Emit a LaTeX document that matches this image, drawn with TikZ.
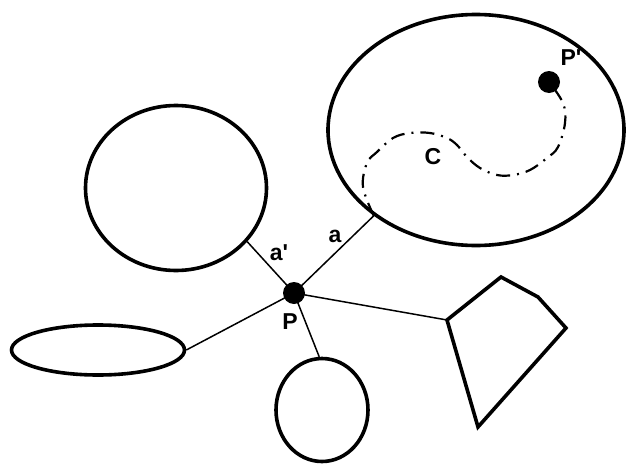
\documentclass[tikz,border=0pt]{standalone}
\usepackage{fontspec}
\setmainfont{Liberation Sans}
\usetikzlibrary{shapes.geometric}
\begin{document}
\begin{tikzpicture}[x=1pt,y=-1pt,
  shapeline/.style={draw, line width=3.6pt, ellipse, inner sep=0pt},
  conn/.style={line width=1.5pt},
  dotnode/.style={circle, fill=black, inner sep=0pt, minimum size=22pt},
  lbl/.style={font=\fontsize{23}{23}\selectfont\bfseries, inner sep=0pt},
  curveline/.style={line width=2.2pt, dash pattern=on 14pt off 7pt on 2pt off 7pt}]
\useasboundingbox (0,0) rectangle (630,466);
% shapes
\node[shapeline, minimum width=296pt, minimum height=231pt] (big) at (476,130) {};
\node[shapeline, minimum width=181pt, minimum height=165pt] (leftc) at (176,188) {};
\node[shapeline, minimum width=173pt, minimum height=50pt] (flat) at (98,350) {};
\node[shapeline, minimum width=92pt, minimum height=103pt] (bot) at (322,410) {};
\coordinate (q1) at (447,320);
\coordinate (q2) at (501,277);
\coordinate (q3) at (538,297);
\coordinate (q4) at (566,328);
\coordinate (q5) at (478,427);
\draw[line width=3.6pt, line join=miter] (q1) -- (q2) -- (q3) -- (q4) -- (q5) -- cycle;
% point P and connectors
\node[dotnode] (P) at (294,293) {};
\draw[conn] (P.center) -- (big.220);
\draw[conn] (P.center) -- (leftc.-37);
\draw[conn] (P.center) -- (flat.east);
\draw[conn] (P.center) -- (bot.93);
\draw[conn] (P.center) -- (q1);
% curve C to P'
\node[dotnode] (Pp) at (549,82) {};
\draw[curveline] plot[smooth, tension=0.6] coordinates {(big.220) (363,187) (367,163) (377,152) (393,138) (410,133) (430,133) (447,138) (457,145) (467,157) (480,168) (497,175) (513,175) (530,170) (547,158) (558,147) (565,123) (563,103) (Pp.center)};
% labels
\node[lbl] (lP) at (290,322) {P};
\node[lbl] (lPp) at (571,58) {P\textquotesingle};
\node[lbl] (lC) at (433,157) {C};
\node[lbl] (la) at (335,236) {a};
\node[lbl] (lap) at (279,253) {a\textquotesingle};
\end{tikzpicture}
\end{document}
